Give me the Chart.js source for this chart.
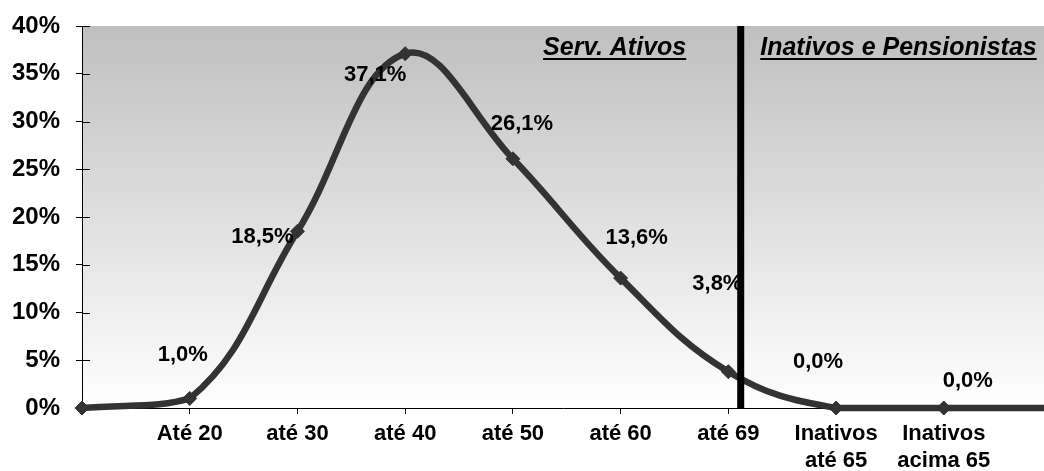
<!DOCTYPE html>
<html>
<head>
<meta charset="utf-8">
<script src="https://cdn.jsdelivr.net/npm/chart.js@4"></script>
<style>
  html, body { margin: 0; padding: 0; background: #ffffff; overflow: hidden; }
  #wrap { width: 1044px; height: 471px; position: relative; }
</style>
</head>
<body>
<div id="wrap"><canvas id="chart"></canvas></div>
<script>
// Age bands (first and last slots anchor the curve at the plot edges)
const categories = ['', 'Até 20', 'até 30', 'até 40', 'até 50', 'até 60', 'até 69',
                    ['Inativos', 'até 65'], ['Inativos', 'acima 65'], ''];
// Share of the population in each band (%)
const shares = [0, 1.0, 18.5, 37.1, 26.1, 13.6, 3.8, 0.0, 0.0, 0];
const valueLabels = ['', '1,0%', '18,5%', '37,1%', '26,1%', '13,6%', '3,8%', '0,0%', '0,0%', ''];
const yTickValues = [0, 5, 10, 15, 20, 25, 30, 35, 40];
const sectionTitles = ['Serv. Ativos', 'Inativos e Pensionistas'];
// Boundary between active staff and retirees, in band units
const dividerAt = 6.11;

const FONT = '"Liberation Sans", Arial, sans-serif';
const INK = '#333333';

// label placement relative to each point (text centre)
const labelOffsets = [null, [-7, -44], [-35, 6], [-30, 21], [9, -35], [16, -40], [-11, -88], [-18, -46], [24, -27], null];

const backgroundPlugin = {
  id: 'plotBackground',
  beforeDraw(chart) {
    const { ctx, chartArea: a } = chart;
    const g = ctx.createLinearGradient(0, a.top, 0, a.bottom);
    g.addColorStop(0, '#bfbfbf');
    g.addColorStop(1, '#ffffff');
    ctx.save();
    ctx.fillStyle = g;
    ctx.fillRect(a.left, a.top, a.right - a.left, a.bottom - a.top);
    ctx.restore();
  }
};

const innerTicksPlugin = {
  id: 'innerTicks',
  beforeDatasetsDraw(chart) {
    const { ctx, chartArea: a, scales } = chart;
    ctx.save();
    ctx.strokeStyle = '#000';
    ctx.lineWidth = 1;
    yTickValues.forEach(v => {
      const y = Math.round(scales.y.getPixelForValue(v)) + 0.5;
      ctx.beginPath();
      ctx.moveTo(a.left, y);
      ctx.lineTo(a.left + 8, y);
      ctx.stroke();
    });
    ctx.restore();
  }
};

const annotationsPlugin = {
  id: 'annotations',
  afterDatasetsDraw(chart) {
    const { ctx, chartArea: a, scales } = chart;
    const meta = chart.getDatasetMeta(0);
    ctx.save();

    // value labels
    ctx.fillStyle = '#000';
    ctx.font = 'bold 22px ' + FONT;
    ctx.textAlign = 'center';
    ctx.textBaseline = 'middle';
    meta.data.forEach((pt, i) => {
      const off = labelOffsets[i];
      if (!off || !valueLabels[i]) return;
      ctx.fillText(valueLabels[i], pt.x + off[0], pt.y + off[1]);
    });

    // divider between the two groups
    const dx = scales.x.getPixelForValue(dividerAt);
    ctx.fillStyle = '#000';
    ctx.fillRect(dx - 3, a.top, 7, a.bottom - a.top);

    // section titles, underlined
    ctx.font = 'italic bold 25px ' + FONT;
    ctx.textBaseline = 'alphabetic';
    ctx.textAlign = 'left';
    const base = a.top + 29;
    const drawTitle = (text, x) => {
      const w = ctx.measureText(text).width;
      ctx.fillText(text, x, base);
      ctx.fillRect(x, base + 3, w, 2);
    };
    const w0 = ctx.measureText(sectionTitles[0]).width;
    drawTitle(sectionTitles[0], dx - 54 - w0);
    drawTitle(sectionTitles[1], dx + 20);
    ctx.restore();
  }
};

new Chart(document.getElementById('chart'), {
  type: 'line',
  data: {
    datasets: [{
      data: shares.map((v, i) => ({ x: i, y: v })),
      borderColor: INK,
      borderWidth: 6.5,
      tension: 0.4,
      fill: false,
      clip: false,
      pointStyle: 'rectRot',
      pointRadius: ctx => (ctx.dataIndex === shares.length - 1 ? 0 : 7),
      pointBackgroundColor: INK,
      pointBorderColor: INK,
      pointBorderWidth: 1
    }]
  },
  options: {
    responsive: true,
    maintainAspectRatio: false,
    animation: false,
    layout: { autoPadding: false, padding: { top: 26, left: 0, right: 0, bottom: 0 } },
    plugins: { legend: { display: false }, tooltip: { enabled: false } },
    scales: {
      x: {
        type: 'linear',
        min: 0,
        max: 8.93,
        afterFit: s => { s.height = 63; s.paddingLeft = 0; s.paddingRight = 0; },
        grid: { display: true, drawOnChartArea: false, drawTicks: true, tickLength: 6, color: '#000' },
        border: { display: true, color: '#000', width: 1 },
        ticks: {
          stepSize: 1,
          includeBounds: false,
          autoSkip: false,
          maxRotation: 0,
          padding: 6,
          color: '#000',
          font: { family: FONT, size: 22, weight: 'bold', lineHeight: 1.25 },
          callback: v => (Number.isInteger(v) && categories[v] !== undefined ? categories[v] : '')
        }
      },
      y: {
        min: 0,
        max: 40,
        afterFit: s => { s.width = 82; s.paddingTop = 0; s.paddingBottom = 0; },
        grid: { display: true, drawOnChartArea: false, drawTicks: true, tickLength: 6, color: '#000' },
        border: { display: true, color: '#000', width: 1 },
        ticks: {
          stepSize: 5,
          padding: 16,
          color: '#000',
          font: { family: FONT, size: 24, weight: 'bold' },
          callback: v => v + '%'
        }
      }
    }
  },
  plugins: [backgroundPlugin, innerTicksPlugin, annotationsPlugin]
});
</script>
</body>
</html>
